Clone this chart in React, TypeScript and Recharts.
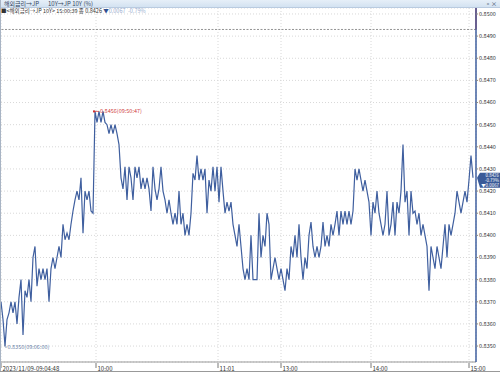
import React from 'react';
import { LineChart, Line, XAxis, YAxis, CartesianGrid, ReferenceLine, ReferenceDot } from 'recharts';

// JP 10Y yield, tick by tick (sampled)
const YIELDS = [
  0.8370, 0.8362, 0.8350, 0.8362, 0.8365, 0.8370, 0.8365, 0.8370, 0.8360, 0.8372,
  0.8380, 0.8355, 0.8375, 0.8372, 0.8380, 0.8370, 0.8390, 0.8395, 0.8377, 0.8385,
  0.8380, 0.8385, 0.8380, 0.8385, 0.8370, 0.8385, 0.8390, 0.8385, 0.8390, 0.8395,
  0.8390, 0.8405, 0.8398, 0.8401, 0.8398, 0.8405, 0.8411, 0.8416, 0.8420, 0.8416,
  0.8426, 0.8401, 0.8420, 0.8416, 0.8420, 0.8411, 0.8410, 0.8456, 0.8451, 0.8456,
  0.8451, 0.8456, 0.8451, 0.8450, 0.8446, 0.8450, 0.8446, 0.8450, 0.8446, 0.8441,
  0.8426, 0.8421, 0.8431, 0.8416, 0.8431, 0.8426, 0.8416, 0.8431, 0.8426, 0.8431,
  0.8421, 0.8426, 0.8421, 0.8426, 0.8421, 0.8411, 0.8431, 0.8421, 0.8416, 0.8421,
  0.8431, 0.8420, 0.8416, 0.8410, 0.8416, 0.8410, 0.8405, 0.8410, 0.8405, 0.8420,
  0.8405, 0.8410, 0.8400, 0.8405, 0.8400, 0.8410, 0.8428, 0.8425, 0.8436, 0.8425,
  0.8430, 0.8425, 0.8430, 0.8410, 0.8425, 0.8420, 0.8431, 0.8420, 0.8431, 0.8415,
  0.8431, 0.8420, 0.8410, 0.8415, 0.8411, 0.8415, 0.8405, 0.8400, 0.8395, 0.8405,
  0.8395, 0.8385, 0.8380, 0.8385, 0.8380, 0.8400, 0.8380, 0.8380, 0.8380, 0.8410,
  0.8390, 0.8400, 0.8395, 0.8410, 0.8405, 0.8380, 0.8385, 0.8390, 0.8385, 0.8380,
  0.8385, 0.8380, 0.8375, 0.8385, 0.8380, 0.8395, 0.8390, 0.8400, 0.8390, 0.8405,
  0.8390, 0.8380, 0.8390, 0.8385, 0.8400, 0.8406, 0.8395, 0.8390, 0.8395, 0.8390,
  0.8395, 0.8406, 0.8395, 0.8400, 0.8395, 0.8405, 0.8400, 0.8405, 0.8411, 0.8400,
  0.8411, 0.8405, 0.8411, 0.8405, 0.8411, 0.8405, 0.8411, 0.8430, 0.8425, 0.8430,
  0.8425, 0.8420, 0.8425, 0.8420, 0.8415, 0.8400, 0.8415, 0.8410, 0.8420, 0.8410,
  0.8405, 0.8400, 0.8405, 0.8420, 0.8400, 0.8405, 0.8415, 0.8400, 0.8415, 0.8410,
  0.8420, 0.8441, 0.8415, 0.8420, 0.8400, 0.8420, 0.8410, 0.8411, 0.8405, 0.8410,
  0.8400, 0.8405, 0.8400, 0.8395, 0.8375, 0.8395, 0.8390, 0.8385, 0.8395, 0.8390,
  0.8385, 0.8395, 0.8405, 0.8390, 0.8405, 0.8400, 0.8405, 0.8410, 0.8420, 0.8415,
  0.8410, 0.8415, 0.8420, 0.8415, 0.8425, 0.8436, 0.8426,
];

const TICK_POS = [0, 47.5, 108.5, 140, 185, 234];
const TICK_LABELS = ['2023/11/09-09:04:48', '10:00', '11:01', '13:00', '14:00', '15:00'];
const Y_TICKS = [0.835, 0.836, 0.837, 0.838, 0.839, 0.840, 0.841, 0.842, 0.843, 0.844, 0.845, 0.846, 0.847, 0.848, 0.849, 0.850];
const PREV_CLOSE = 0.8493;
const CLOSE = 0.8426;
const CHANGE = '▼0.0067';
const CHANGE_PCT = '-0.79%';
const HIGH_IDX = 47;
const HIGH_VAL = 0.8456;
const HIGH_LABEL = '0.8456(09:50:47)';
const LOW_IDX = 2;
const LOW_VAL = 0.8350;
const LOW_LABEL = '0.8350(09:06:00)';

const data = YIELDS.map((v, i) => ({ i, v }));

const FONT = '"Noto Sans CJK KR", "Noto Sans", sans-serif';
const LINE = '#3f5f9f';
const X_MAX = 237.5;
const Y_MIN = 0.83428;
const Y_MAX = 0.85027;

const XTick = (props: any) => {
  const { x, y, payload } = props;
  const idx = TICK_POS.indexOf(payload.value);
  return (
    <g>
      <line x1={x} y1={y + 1} x2={x} y2={y + 6} stroke="#555" strokeWidth={0.8} />
      <text x={x + 1.5} y={y + 8.5} fontSize={6} fill="#333" fontFamily={FONT} textAnchor="start">
        {TICK_LABELS[idx]}
      </text>
    </g>
  );
};

const HighMark = (props: any) => {
  const { cx, cy } = props;
  if (cx == null) return null;
  return (
    <g>
      <rect x={cx - 2} y={cy - 1} width={2} height={2} fill="#d03030" />
      <line x1={cx} y1={cy} x2={cx + 4} y2={cy} stroke="#d03030" strokeWidth={0.7} />
      <text x={cx + 5} y={cy + 2} fontSize={5.5} fill="#d04040" fontFamily={FONT}>{HIGH_LABEL}</text>
    </g>
  );
};

const LowMark = (props: any) => {
  const { cx, cy } = props;
  if (cx == null) return null;
  return (
    <g>
      <polyline points={`${cx},${cy - 3} ${cx},${cy + 1} ${cx + 2},${cy + 1}`} fill="none" stroke="#6a7fa8" strokeWidth={0.7} />
      <text x={cx + 2.5} y={cy + 3} fontSize={5.5} fill="#6a7fa8" fontFamily={FONT}>{LOW_LABEL}</text>
    </g>
  );
};

const CloseBox = (props: any) => {
  const { cx, cy } = props;
  if (cx == null) return null;
  const x0 = cx + 1;
  const top = cy - 5;
  const bot = cy + 10;
  return (
    <g>
      <polygon points={`${x0},${cy} ${x0 + 3},${top} ${x0 + 23},${top} ${x0 + 23},${bot} ${x0 + 3},${bot}`} fill="#3a5a98" />
      <text x={x0 + 22} y={top + 4.4} fontSize={4.4} fill="#fff" fontFamily={FONT} textAnchor="end">{CLOSE.toFixed(4)}</text>
      <text x={x0 + 22} y={top + 9.2} fontSize={4.4} fill="#fff" fontFamily={FONT} textAnchor="end">{CHANGE_PCT}</text>
      <text x={x0 + 22} y={top + 14} fontSize={4.4} fill="#fff" fontFamily={FONT} textAnchor="end">{CHANGE}</text>
    </g>
  );
};

export default function App() {
  return (
    <div style={{ position: 'absolute', left: 0, top: 0, width: 500, height: 372, background: '#fff', overflow: 'hidden', fontFamily: FONT }}>
      <LineChart
        width={500}
        height={372}
        data={data}
        margin={{ top: 8, right: 0, bottom: 0, left: 1 }}
      >
        <CartesianGrid stroke="#d8d8d8" strokeDasharray="1 2" />
        <XAxis
          dataKey="i"
          type="number"
          domain={[0, X_MAX]}
          ticks={TICK_POS}
          interval={0}
          height={10}
          tickSize={0}
          tickMargin={0}
          tickLine={false}
          axisLine={{ stroke: '#999' }}
          tick={<XTick />}
          allowDataOverflow
        />
        <YAxis
          orientation="right"
          type="number"
          domain={[Y_MIN, Y_MAX]}
          ticks={Y_TICKS}
          interval={0}
          width={24}
          tickSize={2}
          tickMargin={1}
          tickLine={{ stroke: '#888' }}
          axisLine={{ stroke: LINE, strokeWidth: 1.5 }}
          tick={{ fontSize: 5.5, fill: '#333', fontFamily: FONT }}
          tickFormatter={(v: number) => v.toFixed(4)}
          allowDataOverflow
        />
        <ReferenceLine y={PREV_CLOSE} stroke="#777" strokeDasharray="2 1.5" strokeWidth={0.8} />
        <ReferenceLine
          segment={[{ x: X_MAX, y: PREV_CLOSE }, { x: X_MAX, y: Y_MAX }]}
          stroke="#e03030"
          strokeWidth={1.5}
          ifOverflow="visible"
        />
        <Line
          type="linear"
          dataKey="v"
          stroke={LINE}
          strokeWidth={1.2}
          dot={false}
          isAnimationActive={false}
        />
        <ReferenceDot x={HIGH_IDX} y={HIGH_VAL} r={0} shape={<HighMark />} ifOverflow="visible" />
        <ReferenceDot x={LOW_IDX} y={LOW_VAL} r={0} shape={<LowMark />} ifOverflow="visible" />
        <ReferenceDot x={X_MAX} y={CLOSE} r={0} shape={<CloseBox />} ifOverflow="visible" />
      </LineChart>
      <div style={{ position: 'absolute', left: 0, top: 0, width: 500, height: 7, background: 'linear-gradient(#e6eff8, #d3e2f1)', borderBottom: '1px solid #b9cbe0', fontSize: 6, lineHeight: '7px', color: '#34465e', whiteSpace: 'pre' }}>
        <span style={{ position: 'absolute', left: 4, top: 0 }}>해외금리→JP</span>
        <span style={{ position: 'absolute', left: 48, top: 0 }}>10Y→JP 10Y (%)</span>
        <span style={{ position: 'absolute', left: 485, top: 0, fontSize: 6 }}>▫×</span>
      </div>
      <div style={{ position: 'absolute', left: 1, top: 8, fontSize: 5.5, lineHeight: '6px', color: '#333', whiteSpace: 'pre' }}>
        <span>■&lt;해외금리→JP 10Y&gt; 15:00:39 종 0.8426 </span>
        <span style={{ color: '#2f4f8f' }}>▼</span>
        <span style={{ color: '#9aaed0' }}>0.0067  -0.79%</span>
      </div>
      <div style={{ position: 'absolute', left: 0, top: 0, width: 1, height: 372, background: '#a8b4c4' }} />
      <div style={{ position: 'absolute', left: 0, top: 371, width: 500, height: 1, background: '#999' }} />
    </div>
  );
}
